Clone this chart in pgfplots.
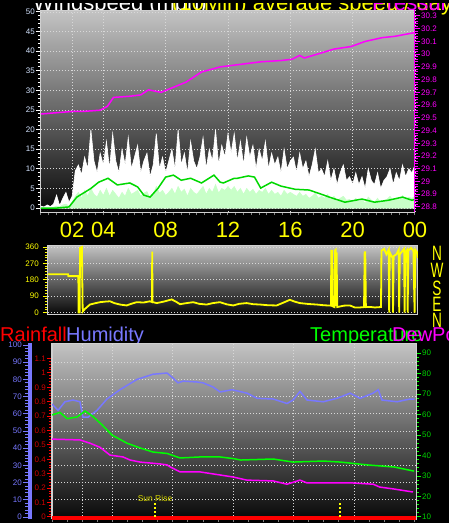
\documentclass[border=0pt]{standalone}
\usepackage{pgfplots}
\pgfplotsset{compat=1.18}
\usepackage{fontspec}
\setmainfont{Liberation Sans}

\definecolor{bgtop}{HTML}{C4C4C4}
\definecolor{bgbot}{HTML}{080808}
\definecolor{gridc}{HTML}{D8D8D8}
\definecolor{framec}{HTML}{D0D0D0}
\definecolor{lblue}{HTML}{D4E4FF}
\definecolor{magc}{HTML}{FF00FF}
\definecolor{yel}{HTML}{FFFF00}
\definecolor{lgreen}{HTML}{C8FFC8}
\definecolor{wgreen}{HTML}{00D800}
\definecolor{hum}{HTML}{7878FF}
\definecolor{tgreen}{HTML}{00FF00}
\definecolor{redc}{HTML}{FF0000}
\definecolor{rlab}{HTML}{D00000}
\definecolor{glab}{HTML}{00D000}
\definecolor{sunc}{HTML}{D8D800}

\newcommand{\tk}{\fontsize{8}{8}\selectfont}
\newcommand{\titlefont}{\fontsize{20}{20}\selectfont}
\newcommand{\topfont}{\fontsize{22}{22}\selectfont}

\pgfplotsset{
  common/.style={scale only axis, xmin=0, xmax=24,
    tick align=outside, major tick length=5pt, minor tick length=3pt,
    /pgf/number format/assume math mode=true,
    tick label style={font=\tk, inner sep=1pt}},
  panel/.style={common,
    axis background/.style={shade, top color=bgtop, bottom color=bgbot},
    axis line style={framec, line width=1pt},
    grid style={gridc, line width=0.9pt, dash pattern=on 1pt off 2pt}},
  over/.style={common, axis x line=none},
}

\begin{document}
\begin{tikzpicture}
\useasboundingbox (0,0) rectangle (449pt,-523pt);
\fill[black] (0,0) rectangle (449pt,-523pt);

% titles cut at the top edge
\node[anchor=base west, inner sep=0pt, text=white, font=\topfont] at (33pt,-10pt) {Windspeed (mph)};
\node[anchor=base west, inner sep=0pt, text=yel, font=\topfont] at (172pt,-10pt) {(10Min) average speed / day};
\node[anchor=base west, inner sep=0pt, text=magc, font=\topfont] at (372pt,-10pt) {Pressure 30};
\fill[black] (0,0) rectangle (449pt,-3pt);

% ---------- wind speed / pressure ----------
\begin{axis}[panel, at={(41pt,-212pt)}, anchor=south west, width=374pt, height=202pt,
  ymin=-1, ymax=50.5,
  xtick={2,4,8,12,16,20,24}, xticklabels={02,04,08,12,16,20,00},
  minor xtick={0,0.5,...,24},
  major x tick style={draw=none}, minor x tick style={gray, line width=1pt},
  xticklabel style={font=\fontsize{22}{22}\selectfont, text=yel, inner sep=0pt, yshift=-5pt},
  xtick pos=bottom, ytick pos=left,
  ytick={0,5,...,50}, minor y tick num=4,
  major y tick style={white, line width=1pt}, minor y tick style={white, line width=1pt},
  yticklabel style={text=lblue},
  xmajorgrids, ymajorgrids]
\addplot[draw=white, fill=white, line width=0.6pt] coordinates {
(0,0.5) (0.2,0.3) (0.4,0.8) (0.6,0.4) (0.8,1.0) (1,3.3) (1.2,0.6) (1.4,2.5) (1.6,4) (1.8,1.5) (2,3)
(2.2,9.5) (2.4,11) (2.6,8.5) (2.8,13) (3,10) (3.2,20) (3.4,12) (3.6,9) (3.8,14) (4,11)
(4.2,17) (4.4,10) (4.6,19) (4.8,12) (5,9) (5.2,15) (5.4,11) (5.6,18) (5.8,10) (6,13)
(6.2,16) (6.4,9) (6.6,12) (6.8,14) (7,8) (7.2,11) (7.4,19) (7.6,10) (7.8,13) (8,9)
(8.2,12) (8.4,15) (8.6,10) (8.8,20) (9,11) (9.2,14) (9.4,9) (9.6,17) (9.8,12) (10,10)
(10.2,13) (10.4,18) (10.6,10) (10.8,15) (11,12) (11.2,20) (11.4,11) (11.6,16) (11.8,13) (12,19)
(12.2,14) (12.4,19) (12.6,12) (12.8,17) (13,11) (13.2,18) (13.4,13) (13.6,16) (13.8,10) (14,15)
(14.2,12) (14.4,17) (14.6,10) (14.8,14) (15,11) (15.2,13) (15.4,9) (15.6,15) (15.8,10) (16,12)
(16.2,13) (16.4,9) (16.6,14) (16.8,10) (17,12) (17.2,8) (17.4,11) (17.6,15) (17.8,9) (18,10)
(18.2,8) (18.4,12) (18.6,7) (18.8,10) (19,6) (19.2,9) (19.4,11) (19.6,7) (19.8,8) (20,6)
(20.2,9) (20.4,6) (20.6,8) (20.8,5) (21,10) (21.2,7) (21.4,6) (21.6,9) (21.8,5) (22,7)
(22.2,8) (22.4,10) (22.6,6) (22.8,9) (23,7) (23.2,11) (23.4,8) (23.6,10) (23.8,9) (24,11)
} \closedcycle;
\addplot[draw=lgreen, fill=lgreen, line width=0.6pt] coordinates {
(0,0) (0.2,0) (0.4,0) (0.6,0) (0.8,0.2) (1,0.5) (1.2,0.3) (1.4,0.8) (1.6,1.0) (1.8,0.5) (2,1.5)
(2.2,3) (2.4,4) (2.6,2.5) (2.8,4.5) (3,3) (3.2,5) (3.4,3.5) (3.6,2.8) (3.8,4.5) (4,3.2)
(4.2,5) (4.4,3) (4.6,4.5) (4.8,3.5) (5,2.5) (5.2,4) (5.4,3) (5.6,5) (5.8,3.5) (6,4)
(6.2,4.5) (6.4,3) (6.6,3.8) (6.8,4.2) (7,2.5) (7.2,3.5) (7.4,5.5) (7.6,3.8) (7.8,4.5) (8,3.2)
(8.2,4) (8.4,5) (8.6,3.5) (8.8,5.5) (9,4) (9.2,4.8) (9.4,3) (9.6,5) (9.8,4) (10,3.5)
(10.2,4.5) (10.4,5.5) (10.6,3.5) (10.8,5) (11,4) (11.2,6) (11.4,3.8) (11.6,5) (11.8,4.5) (12,5.5)
(12.2,4.5) (12.4,5.5) (12.6,4) (12.8,5) (13,3.5) (13.2,5) (13.4,4) (13.6,4.8) (13.8,3.5) (14,4.5)
(14.2,4) (14.4,5) (14.6,3.5) (14.8,4.5) (15,3.5) (15.2,4) (15.4,3) (15.6,4.5) (15.8,3.5) (16,4)
(16.2,3.5) (16.4,3) (16.6,4) (16.8,3) (17,3.5) (17.2,2.5) (17.4,3) (17.6,3.8) (17.8,2.5) (18,3)
(18.2,2.5) (18.4,3.5) (18.6,2) (18.8,3) (19,1.8) (19.2,2.5) (19.4,3) (19.6,2) (19.8,2.2) (20,1.5)
(20.2,2.5) (20.4,1.5) (20.6,2.2) (20.8,1.2) (21,2.8) (21.2,2) (21.4,1.5) (21.6,2.5) (21.8,1.2) (22,2)
(22.2,2.2) (22.4,3) (22.6,1.8) (22.8,2.5) (23,2) (23.2,3.2) (23.4,2.2) (23.6,2.8) (23.8,2.5) (24,3)
} \closedcycle;
\addplot[wgreen, line width=1.5pt] coordinates {
(0,0) (1,0) (1.8,0.3) (2.3,2.8) (3.2,5) (3.7,6.6) (4.3,7.6) (4.9,5.9) (5.7,6.4) (6.2,5.4)
(6.6,3.3) (7,2.8) (7.5,5) (8,7.9) (8.5,8.4) (9,7.1) (9.6,7.6) (10.3,6.4) (11.1,8.4) (11.5,6.6)
(11.7,6.4) (12.4,7.6) (12.6,7.6) (13.3,8.2) (13.7,7.9) (14.1,5.1) (14.8,6.6) (15.4,5.6) (16.3,4.8)
(17.2,4.6) (17.8,3.8) (18.5,2.8) (19.5,1.5) (20.6,2.3) (21.4,1.5) (22.3,2) (23.2,2.8) (23.8,2) (24,2.2)
};
\end{axis}

\begin{axis}[over, at={(41pt,-212pt)}, anchor=south west, width=374pt, height=202pt,
  ymin=28.76, ymax=30.347, axis y line*=right,
  axis line style={magc, line width=1pt},
  ytick={28.8,28.9,29,29.1,29.2,29.3,29.4,29.5,29.6,29.7,29.8,29.9,30,30.1,30.2,30.3},
  minor y tick num=4,
  major y tick style={magc, line width=1pt}, minor y tick style={magc, line width=1pt},
  yticklabel style={text=magc}]
\addplot[magc, line width=1.5pt] coordinates {
(0,29.53) (1,29.54) (2,29.55) (2.7,29.55) (3.8,29.56) (4.26,29.59) (4.65,29.66) (5.74,29.67)
(6.4,29.68) (6.9,29.72) (7.7,29.70) (8.3,29.73) (9.3,29.78) (10.3,29.86) (11.5,29.90) (12.8,29.92)
(14.1,29.94) (15.4,29.95) (16.1,29.96) (16.6,29.99) (16.9,29.97) (18,30.01) (18.8,30.04)
(19.9,30.06) (20.8,30.10) (21.9,30.13) (22.7,30.14) (24,30.17)
};
\end{axis}

% ---------- wind direction ----------
\begin{axis}[panel, at={(48pt,-314pt)}, anchor=south west, width=370pt, height=69pt,
  ymin=-8, ymax=371, xtick=\empty,
  ytick={0,90,180,270,360}, minor y tick num=5, ytick pos=left, ymajorgrids,
  major y tick style={yel, line width=1pt}, minor y tick style={yel, line width=1pt},
  yticklabel style={text=yel, xshift=-3pt}]
\addplot[yel, line width=1.8pt] coordinates {
(0,210) (1.3,210) (1.32,200) (1.97,200) (1.98,0) (2.05,0) (2.08,355) (2.2,360) (2.25,5) (2.4,20)
(2.72,44) (3.0,50) (3.37,57) (3.7,60) (4.02,62) (4.3,52) (4.67,44) (5.1,39) (5.4,48) (5.75,57)
(6.2,55) (6.61,62) (6.74,58) (6.76,335) (6.78,58) (7.05,52) (7.5,60) (8.02,72) (8.3,60) (8.56,46)
(9.0,52) (9.42,57) (9.8,48) (10.29,44) (10.7,52) (11.15,57) (11.6,45) (12.02,39) (12.4,48)
(12.88,52) (13.3,46) (13.75,44) (14.3,40) (14.83,39) (15.2,52) (15.69,70) (16.0,60) (16.34,52)
(16.9,47) (17.43,44) (17.9,40) (18.35,38) (18.38,340) (18.42,340) (18.45,35) (18.58,30)
(18.6,340) (18.66,345) (18.7,35) (18.72,330) (18.76,30) (19.2,38) (19.58,39) (19.9,28)
(20.23,28) (20.5,30) (20.54,331) (20.58,331) (20.62,30) (20.88,31) (21.2,28) (21.53,30)
(21.6,30) (21.63,340) (21.8,350) (21.95,320) (22.1,345) (22.13,0) (22.17,330) (22.35,300)
(22.38,0) (22.42,310) (22.6,320) (22.75,345) (22.78,0) (22.82,320) (23.0,340) (23.1,350)
(23.13,0) (23.17,330) (23.3,345) (23.33,0) (23.37,340) (23.55,355) (23.7,340) (23.78,0)
(23.82,345) (23.95,330) (24,300)
};
\end{axis}
\foreach \l/\yy in {N/253,W/270,S/288,E/304,N/320}
  \node[text=yel, font=\fontsize{16}{16}\selectfont, inner sep=0pt] at (437pt,-\yy pt) {\scalebox{0.85}[1.3]{\l}};

% ---------- rainfall / humidity / temperature ----------
\node[anchor=base west, inner sep=0pt, text=redc, font=\titlefont] at (0pt,-341pt) {Rainfall};
\node[anchor=base west, inner sep=0pt, text=hum, font=\titlefont] at (66pt,-341pt) {Humidity};
\node[anchor=base west, inner sep=0pt, text=tgreen, font=\titlefont] at (310pt,-341pt) {Temperature};
\node[anchor=base west, inner sep=0pt, text=magc, font=\titlefont] at (392pt,-341pt) {DewPoint};

\begin{axis}[panel, at={(52pt,-519pt)}, anchor=south west, width=364pt, height=176pt,
  xmax=24.1, ymin=-1.16, ymax=101.16,
  ytick={10,20,...,90}, yticklabels={}, major y tick style={draw=none}, ymajorgrids,
  xtick={2,4,8,12,16,20}, xticklabels={}, xmajorgrids, xtick pos=bottom,
  minor xtick={0,1,...,24},
  major x tick style={draw=none}, minor x tick style={gray, line width=1pt}]
\addplot[hum, line width=1.5pt] coordinates {
(0,65.7) (0.4,62) (0.86,67) (1.39,68) (1.85,67) (2.05,58) (2.38,58) (2.98,62) (3.64,68.6)
(4.5,74) (5.63,80) (6.69,83) (7.62,83.7) (8.01,80.8) (8.34,78) (8.68,79) (9.6,78.5) (10.0,78)
(10.66,75.6) (11.13,72.7) (11.92,74) (12.91,72) (13.58,69) (14.64,68.6) (15.56,66) (15.96,68)
(16.42,73) (16.89,68) (17.95,67) (18.87,69) (19.74,72) (20.4,69) (21.26,72) (21.6,74)
(21.85,68) (22.85,67) (23.7,68.6) (24,68.5)
};
\end{axis}

\begin{axis}[over, at={(52pt,-519pt)}, anchor=south west, width=364pt, height=176pt,
  xmax=24.1, ymin=9.02, ymax=94.9, axis y line*=right,
  axis line style={framec, line width=1pt},
  ytick={10,20,...,90}, minor y tick num=4,
  major y tick style={tgreen, line width=1pt}, minor y tick style={tgreen, line width=1pt},
  yticklabel style={text=glab}]
\addplot[tgreen, line width=1.5pt] coordinates {
(0,59.8) (0.53,61) (1.0,58) (1.66,58.8) (2.19,61.7) (2.72,59) (3.31,55) (3.97,50) (4.97,46)
(5.83,43.7) (6.69,41.7) (7.62,41) (8.48,38.8) (9.8,39.3) (11.13,39.3) (12.0,38.5) (12.5,37.8)
(14.64,38.3) (15.96,36.8) (17.95,37.3) (19.1,36.8) (20.26,35.9) (20.9,35.4) (22.65,34.4) (23.97,32.4)
};
\addplot[magc, line width=1.5pt] coordinates {
(0,48) (1.85,47.6) (2.52,46) (3.18,44) (3.84,40.2) (4.7,39.3) (5.17,37.8) (5.83,36.8) (7.15,35.9)
(7.62,35.4) (7.81,34.5) (8.48,32) (9.8,32) (11.13,30.5) (12.0,29.5) (12.9,28) (14.64,27.6)
(15.56,26) (16.42,28) (16.89,26.6) (18.6,26.6) (19.93,26.6) (21.26,26) (21.7,24.6) (22.6,23.7) (23.9,22.2)
};
\end{axis}

\begin{axis}[over, at={(52pt,-519pt)}, anchor=south west, width=364pt, height=176pt,
  xmax=24.1, ymin=-0.014, ymax=1.207, axis y line*=left,
  axis line style={framec, line width=1pt},
  ytick={0,0.1,0.2,0.3,0.4,0.5,0.6,0.7,0.8,0.9,1,1.1}, minor y tick num=4,
  major y tick style={redc, line width=1pt}, minor y tick style={redc, line width=1pt},
  yticklabel style={text=rlab}]
\addplot[redc, line width=4pt] coordinates {(0,-0.006) (24.1,-0.006)};
\addplot[yel, line width=1.5pt, dash pattern=on 2pt off 2pt] coordinates {(6.82,0) (6.82,0.1)};
\addplot[yel, line width=1.5pt, dash pattern=on 2pt off 2pt] coordinates {(19.07,0) (19.07,0.1)};
\node[text=sunc, font=\fontsize{8.5}{8.5}\selectfont, anchor=south, inner sep=1pt] at (axis cs:6.82,0.1) {Sun Rise};
\end{axis}

\begin{axis}[scale only axis, at={(30pt,-519pt)}, anchor=south west, width=1pt, height=176pt,
  xmin=0, xmax=1, ymin=-1.16, ymax=101.16, axis x line=none, axis y line*=left,
  axis line style={hum, line width=4pt},
  tick align=outside, major tick length=7pt, minor tick length=5pt,
  /pgf/number format/assume math mode=true,
  tick label style={font=\tk, inner sep=1pt},
  ytick={0,10,...,100}, minor y tick num=4,
  major y tick style={hum, line width=1pt}, minor y tick style={hum, line width=1pt},
  yticklabel style={text=hum}]
\end{axis}
\end{tikzpicture}
\end{document}
